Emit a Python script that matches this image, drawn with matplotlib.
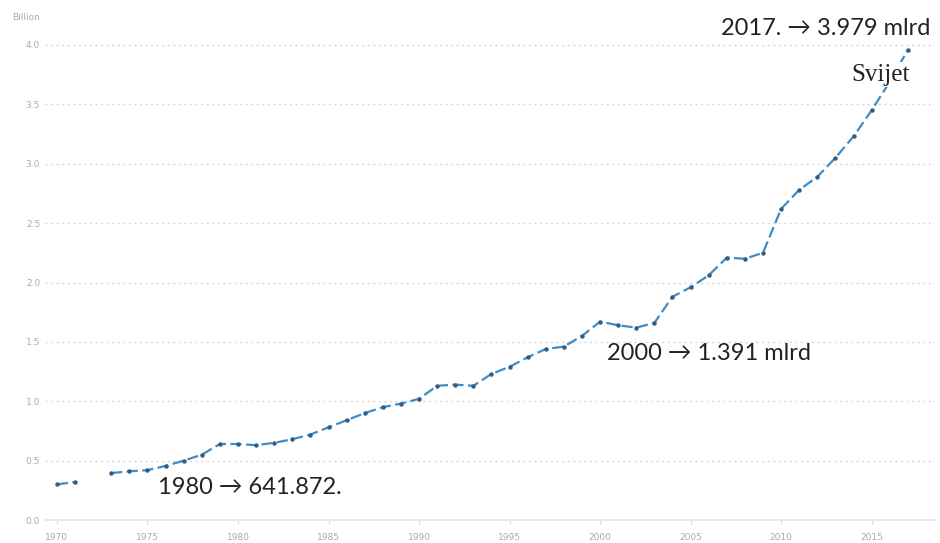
import matplotlib
matplotlib.use("Agg")
import matplotlib.pyplot as plt
import numpy as np

years = list(range(1970, 2018))
values = [0.30, 0.32, np.nan, 0.395, 0.41, 0.42, 0.455, 0.50, 0.55, 0.64,
          0.64, 0.63, 0.65, 0.68, 0.72, 0.78, 0.84, 0.90, 0.95, 0.98,
          1.02, 1.13, 1.14, 1.13, 1.23, 1.29, 1.37, 1.44, 1.46, 1.55,
          1.67, 1.64, 1.62, 1.66, 1.88, 1.96, 2.06, 2.21, 2.20, 2.25,
          2.62, 2.78, 2.89, 3.05, 3.23, 3.45, 3.69, 3.96]
xticks = [1970, 1975, 1980, 1985, 1990, 1995, 2000, 2005, 2010, 2015]
yticks = [0.0, 0.5, 1.0, 1.5, 2.0, 2.5, 3.0, 3.5, 4.0]
annotations = [
    ("2017. \u2192 3.979 mlrd", 2006.7, 4.14),
    ("2000 \u2192 1.391 mlrd", 2000.4, 1.40),
    ("1980 \u2192 641.872.", 1975.6, 0.27),
]
series_label = "Svijet"

fig = plt.figure(figsize=(9.4, 5.43), dpi=100)
ax = fig.add_axes([45/940, 1 - 520/543, (935-45)/940, (520-38)/543])

ax.plot(years, values, color="#3f8cc6", lw=1.6, ls=(0, (5, 2)),
        marker="o", ms=2.2, mfc="#2f5f86", mec="#2f5f86", zorder=3)

ax.set_xlim(1969.34, 2018.5)
ax.set_ylim(0, 4.0 + 7/118.75)
ax.set_xticks(xticks)
ax.set_xticklabels([str(t) for t in xticks])
ax.set_yticks(yticks)
ax.set_yticklabels([f"{t:.1f}" for t in yticks])
ax.tick_params(axis="both", labelsize=6.5, colors="#aaaaaa", length=0)
ax.tick_params(axis="x", length=3, color="#dddddd", pad=6)
for t in yticks[1:]:
    ax.axhline(t, color="#d8d8d8", lw=1.0, ls=(0, (1.5, 2.5)), zorder=1)
for s in ["top", "right", "left"]:
    ax.spines[s].set_visible(False)
ax.spines["bottom"].set_color("#e6e6e6")
ax.spines["bottom"].set_linewidth(1.2)

fig.text(12/940, 1 - 17/543, "Billion", fontsize=6.5, color="#aaaaaa", va="center")

for txt, x, y in annotations:
    ax.text(x, y, txt, fontsize=17, color="#222222", va="center", ha="left",
            family=["Lato", "DejaVu Sans"], clip_on=False, zorder=5)

ax.text(2015.5, 3.75, series_label, fontsize=18, color="#222222",
        family=["Liberation Serif"], va="center", ha="center", zorder=5,
        bbox=dict(facecolor="white", edgecolor="none", pad=1))

fig.savefig("out.png", dpi=100, facecolor="white")
